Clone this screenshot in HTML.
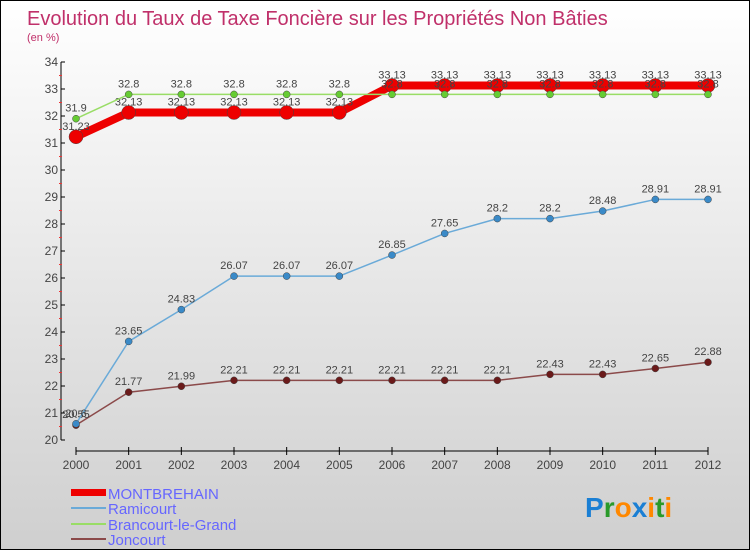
<!DOCTYPE html>
<html><head><meta charset="utf-8"><style>
body{margin:0}
#wrap{width:748px;height:548px;border:1px solid #000;background:linear-gradient(#ffffff,#cfcfcf);position:relative;font-family:"Liberation Sans",sans-serif;overflow:hidden}
</style></head><body>
<div id="wrap">
<svg id="c" width="748" height="548" xmlns="http://www.w3.org/2000/svg">
<text x="26" y="24" font-size="20" fill="#c0306a">Evolution du Taux de Taxe Foncière sur les Propriétés Non Bâties</text>
<text x="26" y="40" font-size="11" fill="#c0306a">(en %)</text>
<g id="axes"></g><g id="series"></g>
<g>
<rect x="70" y="488" width="35" height="7" fill="#e00"/>
<text x="107" y="498" font-size="15" fill="#6666ff">MONTBREHAIN</text>
<line x1="70" x2="105" y1="507" y2="507" stroke="#6aaad8" stroke-width="2"/>
<text x="107" y="513" font-size="15" fill="#6666ff">Ramicourt</text>
<line x1="70" x2="105" y1="523" y2="523" stroke="#99dd66" stroke-width="2"/>
<text x="107" y="529" font-size="15" fill="#6666ff">Brancourt-le-Grand</text>
<line x1="70" x2="105" y1="538" y2="538" stroke="#8b4a4a" stroke-width="2"/>
<text x="107" y="544" font-size="15" fill="#6666ff">Joncourt</text>
</g>
<text x="584" y="516" font-size="28" font-weight="bold"><tspan fill="#1a7fd4">P</tspan><tspan fill="#2a9a2a">r</tspan><tspan fill="#ff8800">o</tspan><tspan fill="#1a7fd4">x</tspan><tspan fill="#ff8800">i</tspan><tspan fill="#2a9a2a">t</tspan><tspan fill="#ff8800">i</tspan></text>
</svg>
</div>
<script>
const years=[2000,2001,2002,2003,2004,2005,2006,2007,2008,2009,2010,2011,2012];
const yTicks=[20,21,22,23,24,25,26,27,28,29,30,31,32,33,34];
const montbrehain=[31.23,32.13,32.13,32.13,32.13,32.13,33.13,33.13,33.13,33.13,33.13,33.13,33.13];
const ramicourt=[20.6,23.65,24.83,26.07,26.07,26.07,26.85,27.65,28.2,28.2,28.48,28.91,28.91];
const brancourt=[31.9,32.8,32.8,32.8,32.8,32.8,32.8,32.8,32.8,32.8,32.8,32.8,32.8];
const joncourt=[20.55,21.77,21.99,22.21,22.21,22.21,22.21,22.21,22.21,22.43,22.43,22.65,22.88];
const NS="http://www.w3.org/2000/svg";
const xS=i=>75+i*(707-75)/(years.length-1);
const yS=v=>439-(v-20)*27;
function mk(t,a,p){const e=document.createElementNS(NS,t);for(const k in a)e.setAttribute(k,a[k]);p.appendChild(e);return e;}
const ax=document.getElementById('axes');
let e=mk('line',{x1:60,x2:60,y1:yS(34),y2:yS(20),stroke:'#000'},ax);


e=mk('line',{x1:75,x2:707,y1:450,y2:450,stroke:'#000'},ax);


yTicks.forEach(v=>{
 mk('line',{x1:60,x2:64,y1:yS(v),y2:yS(v),stroke:'#000'},ax);
 if(v<34) mk('line',{x1:58,x2:61,y1:yS(v+0.5),y2:yS(v+0.5),stroke:'#e33'},ax);
 const t=mk('text',{x:57,y:yS(v)+4,'font-size':12,'text-anchor':'end',fill:'#444'},ax);t.textContent=v;
 
 
});
years.forEach((y,i)=>{
 mk('line',{x1:xS(i),x2:xS(i),y1:446,y2:454,stroke:'#000'},ax);
 const t=mk('text',{x:xS(i),y:468,'font-size':12,'text-anchor':'middle',fill:'#444'},ax);t.textContent=y;
 
 
});
const sg=document.getElementById('series');
function draw(name,data,color,w,r,dot){
 const g=mk('g',{},sg);
 
 
 const l=mk('polyline',{points:data.map((v,i)=>xS(i)+','+yS(v)).join(' '),fill:'none',stroke:color,'stroke-width':w,'stroke-linejoin':'round'},g);
 
 
 data.forEach((v,i)=>{
  const c=mk('circle',{cx:xS(i),cy:yS(v),r:r,fill:dot,stroke:'#444','stroke-width':0.5},g);
  
  
  const t=mk('text',{x:xS(i),y:yS(v)-7,'font-size':11,'text-anchor':'middle',fill:'#444'},g);t.textContent=v;
  
  
 });
}
draw('joncourt',joncourt,'#8b4a4a',1.5,3.5,'#6b1a1a');
draw('ramicourt',ramicourt,'#6aaad8',1.5,3.5,'#3a8ac8');
draw('montbrehain',montbrehain,'#e00',8,7,'#e00');
draw('brancourt',brancourt,'#99dd66',1.5,3.5,'#66cc33');
</script>
</body></html>
